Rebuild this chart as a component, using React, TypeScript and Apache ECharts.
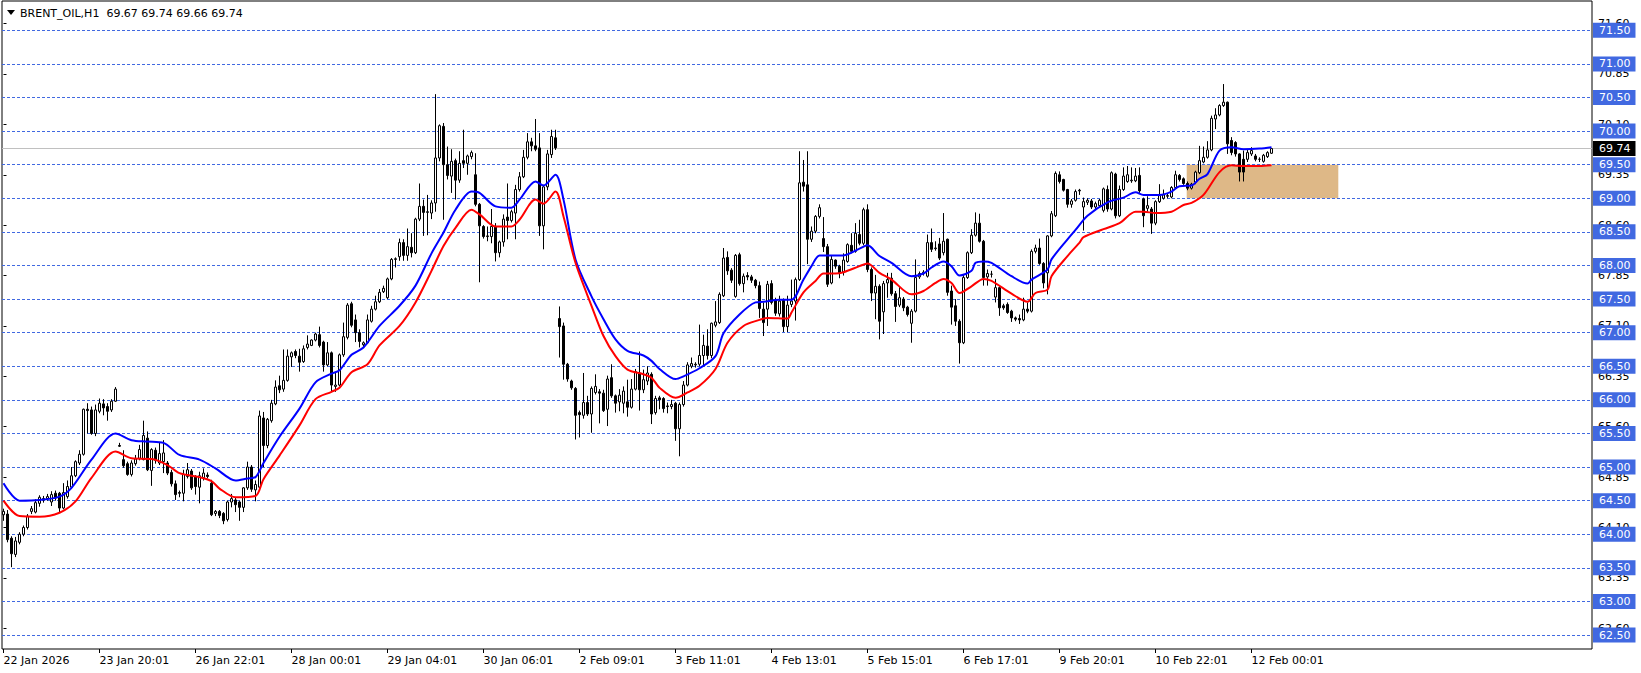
import React, { useEffect, useRef } from "react";
import * as echarts from "echarts";

const FONT = "'DejaVu Sans', 'Liberation Sans', sans-serif";

const header = "BRENT_OIL,H1  69.67 69.74 69.66 69.74";

// [open, close, low, high] per hourly bar
const candles: number[][] = [
  [64.29, 64.34, 64.2, 64.38], [64.3, 63.92, 63.88, 64.36], [63.94, 63.71, 63.51, 63.97], [63.7, 63.9, 63.66, 63.96],
  [63.88, 64.0, 63.85, 64.03], [64.0, 64.1, 63.97, 64.13], [64.1, 64.27, 64.07, 64.3], [64.34, 64.38, 64.3, 64.42],
  [64.33, 64.47, 64.31, 64.52], [64.46, 64.55, 64.41, 64.58], [64.53, 64.51, 64.47, 64.57], [64.53, 64.56, 64.5, 64.6],
  [64.48, 64.59, 64.42, 64.64], [64.61, 64.54, 64.5, 64.65], [64.61, 64.39, 64.32, 64.63], [64.39, 64.62, 64.37, 64.76],
  [64.56, 64.71, 64.53, 64.8], [64.7, 64.87, 64.68, 65.0], [64.87, 65.08, 64.85, 65.1], [65.06, 65.19, 65.03, 65.25],
  [65.19, 65.86, 65.17, 65.87], [65.86, 65.84, 65.5, 65.95], [65.85, 65.5, 65.48, 65.9], [65.5, 65.85, 65.46, 65.93],
  [65.83, 65.95, 65.8, 66.02], [65.94, 65.88, 65.77, 66.01], [65.9, 65.83, 65.69, 65.95], [65.85, 65.98, 65.82, 66.01],
  [65.98, 66.16, 65.97, 66.19], [65.32, 65.31, 65.3, 65.36], [65.11, 65.02, 64.99, 65.25], [65.05, 64.89, 64.87, 65.08],
  [64.89, 65.06, 64.86, 65.1], [65.05, 65.12, 65.02, 65.18], [65.13, 65.26, 65.1, 65.33], [65.11, 65.47, 65.1, 65.69],
  [65.43, 64.96, 64.94, 65.53], [64.95, 65.26, 64.72, 65.28], [65.25, 65.1, 65.05, 65.29], [65.06, 65.2, 65.03, 65.36],
  [65.08, 65.21, 64.91, 65.4], [65.06, 64.91, 64.88, 65.09], [64.92, 64.75, 64.71, 64.96], [64.75, 64.59, 64.51, 64.8],
  [64.62, 64.61, 64.55, 64.65], [64.61, 64.89, 64.49, 64.96], [64.86, 64.96, 64.83, 65.06], [64.94, 64.69, 64.66, 64.97],
  [64.86, 64.71, 64.59, 64.88], [64.7, 64.87, 64.46, 64.93], [64.84, 64.91, 64.8, 64.98], [64.88, 64.86, 64.83, 64.92],
  [64.76, 64.29, 64.27, 64.81], [64.31, 64.34, 64.27, 64.36], [64.34, 64.28, 64.24, 64.36], [64.31, 64.2, 64.15, 64.33],
  [64.22, 64.48, 64.19, 64.5], [64.48, 64.53, 64.4, 64.6], [64.51, 64.44, 64.33, 64.55], [64.48, 64.4, 64.2, 64.5],
  [64.4, 64.69, 64.33, 64.7], [64.69, 65.0, 64.66, 65.08], [65.0, 64.67, 64.63, 65.03], [64.66, 64.74, 64.49, 64.8],
  [64.7, 65.76, 64.68, 65.84], [65.73, 65.32, 65.0, 65.82], [65.32, 65.71, 65.28, 65.73], [65.69, 65.95, 65.66, 66.0],
  [65.94, 66.19, 65.92, 66.29], [66.21, 66.15, 66.1, 66.36], [66.16, 66.29, 66.12, 66.75], [66.29, 66.65, 66.27, 66.75],
  [66.64, 66.7, 66.49, 66.72], [66.72, 66.66, 66.62, 66.75], [66.65, 66.56, 66.42, 66.76], [66.57, 66.76, 66.55, 66.81],
  [66.78, 66.83, 66.75, 66.96], [66.81, 66.89, 66.8, 66.9], [66.89, 66.98, 66.87, 67.0], [66.97, 66.81, 66.78, 67.09],
  [66.86, 66.52, 66.42, 66.88], [66.52, 66.7, 66.5, 66.86], [66.7, 66.22, 66.12, 66.72], [66.2, 66.22, 66.12, 66.4],
  [66.22, 66.67, 66.2, 66.69], [66.67, 66.94, 66.64, 67.15], [66.93, 67.41, 66.9, 67.44], [67.43, 67.11, 67.08, 67.46],
  [67.19, 67.0, 66.86, 67.27], [67.0, 66.87, 66.78, 67.05], [66.82, 66.85, 66.77, 66.87], [66.85, 67.19, 66.83, 67.27],
  [67.17, 67.35, 67.15, 67.4], [67.35, 67.46, 67.33, 67.55], [67.46, 67.6, 67.44, 67.65], [67.61, 67.66, 67.59, 67.7],
  [67.52, 67.8, 67.5, 67.82], [67.8, 68.09, 67.78, 68.11], [68.09, 68.1, 67.97, 68.12], [68.13, 68.34, 68.07, 68.4],
  [68.34, 68.15, 68.07, 68.39], [68.15, 68.28, 68.07, 68.55], [68.27, 68.19, 68.12, 68.48], [68.19, 68.69, 68.17, 68.71],
  [68.69, 68.88, 68.66, 69.22], [68.88, 68.79, 68.44, 68.98], [68.79, 68.8, 68.45, 69.05], [68.78, 68.93, 68.69, 68.97],
  [68.93, 69.6, 68.8, 70.55], [69.6, 70.08, 69.55, 70.1], [70.07, 69.5, 68.68, 70.12], [69.5, 69.34, 69.28, 69.77],
  [69.33, 69.55, 69.08, 69.73], [69.56, 69.27, 68.98, 69.59], [69.27, 69.52, 69.23, 69.7], [69.56, 69.52, 69.45, 70.02],
  [69.52, 69.63, 69.35, 69.65], [69.62, 69.68, 69.58, 69.71], [69.35, 68.91, 68.88, 69.67], [68.91, 68.59, 67.75, 68.93],
  [68.58, 68.43, 68.4, 68.6], [68.43, 68.44, 68.36, 68.58], [68.43, 68.58, 68.33, 68.84], [68.58, 68.19, 68.06, 68.63],
  [68.19, 68.35, 68.12, 68.37], [68.35, 68.69, 68.28, 68.76], [68.72, 68.67, 68.39, 69.22], [68.67, 68.8, 68.64, 68.83],
  [68.78, 69.13, 68.39, 69.2], [69.13, 69.32, 69.1, 69.39], [69.32, 69.61, 69.3, 69.72], [69.61, 69.84, 69.58, 69.97],
  [69.84, 69.78, 69.7, 69.9], [69.78, 69.73, 69.7, 70.18], [69.75, 68.59, 68.44, 69.97], [68.59, 69.17, 68.24, 69.2],
  [69.17, 69.66, 69.12, 69.72], [69.65, 69.92, 69.6, 70.02], [69.9, 69.75, 69.72, 70.02], [67.21, 67.09, 66.63, 67.39],
  [67.1, 66.53, 66.3, 67.15], [66.53, 66.31, 66.27, 66.55], [66.28, 66.18, 66.15, 66.3], [66.17, 65.77, 65.41, 66.19],
  [65.81, 65.78, 65.44, 65.84], [65.77, 65.96, 65.72, 66.4], [65.96, 65.79, 65.76, 66.06], [65.79, 66.17, 65.51, 66.2],
  [66.11, 66.2, 66.08, 66.38], [66.12, 66.1, 65.65, 66.16], [66.1, 65.84, 65.82, 66.15], [65.86, 66.31, 65.61, 66.36],
  [66.33, 66.06, 66.03, 66.53], [66.06, 65.95, 65.81, 66.08], [65.97, 66.07, 65.83, 66.16], [65.95, 66.13, 65.8, 66.2],
  [65.97, 65.89, 65.75, 66.3], [65.89, 66.16, 65.87, 66.31], [66.16, 66.42, 66.14, 66.46], [66.4, 66.15, 65.84, 66.72],
  [66.15, 66.3, 66.1, 66.45], [66.28, 66.4, 66.22, 66.5], [66.38, 65.79, 65.64, 66.41], [65.81, 66.02, 65.78, 66.06],
  [66.03, 66.0, 65.86, 66.06], [66.02, 65.87, 65.81, 66.04], [65.91, 65.9, 65.8, 65.96], [65.9, 65.93, 65.86, 66.0],
  [65.95, 65.57, 65.39, 65.97], [65.57, 65.93, 65.16, 65.96], [65.93, 66.22, 65.9, 66.28], [66.22, 66.52, 66.2, 66.56],
  [66.5, 66.54, 66.47, 66.63], [66.52, 66.53, 66.48, 66.56], [66.53, 66.66, 66.5, 67.12], [66.66, 66.81, 66.5, 66.97],
  [66.8, 66.66, 66.6, 67.05], [66.66, 67.14, 66.62, 67.15], [67.11, 67.16, 67.08, 67.47], [67.15, 67.57, 67.13, 67.6],
  [67.55, 68.11, 67.53, 68.26], [68.12, 67.92, 67.86, 68.21], [67.93, 67.78, 67.74, 67.96], [67.54, 68.15, 67.52, 68.17],
  [68.16, 67.73, 67.7, 68.19], [67.73, 67.84, 67.6, 67.88], [67.85, 67.83, 67.78, 67.9], [67.83, 67.78, 67.74, 67.86],
  [67.78, 67.7, 67.66, 67.8], [67.7, 67.36, 67.22, 67.76], [67.35, 67.15, 66.95, 67.45], [67.35, 67.72, 67.1, 67.77],
  [67.73, 67.45, 67.42, 67.78], [67.48, 67.29, 67.25, 67.52], [67.28, 67.47, 67.24, 67.55], [67.48, 67.09, 67.01, 67.51],
  [67.09, 67.41, 67.01, 67.55], [67.42, 67.47, 67.38, 67.79], [67.47, 67.79, 67.18, 67.82], [67.79, 69.23, 67.77, 69.7],
  [69.24, 69.18, 69.1, 69.57], [69.2, 68.39, 68.02, 69.7], [68.39, 68.51, 68.35, 68.58], [68.51, 68.73, 68.48, 68.75],
  [68.73, 68.86, 68.7, 68.91], [68.4, 68.28, 68.2, 68.72], [68.28, 67.72, 67.68, 68.32], [67.74, 68.09, 67.72, 68.14],
  [68.08, 67.99, 67.95, 68.09], [67.99, 67.89, 67.81, 68.01], [67.9, 68.08, 67.85, 68.18], [68.06, 68.31, 68.04, 68.33],
  [68.3, 68.21, 68.18, 68.48], [68.21, 68.48, 68.19, 68.63], [68.46, 68.33, 68.3, 68.68], [68.33, 68.83, 68.3, 68.86],
  [68.83, 67.94, 67.9, 68.91], [67.94, 67.59, 67.47, 67.97], [67.59, 67.69, 67.2, 67.86], [67.69, 67.17, 66.9, 67.72],
  [67.31, 67.73, 66.98, 67.77], [67.74, 67.79, 67.52, 67.89], [67.81, 67.58, 67.55, 67.89], [67.58, 67.39, 67.16, 67.62],
  [67.41, 67.52, 67.38, 67.68], [67.5, 67.37, 67.32, 67.53], [67.38, 67.27, 67.24, 67.4], [67.14, 67.32, 66.85, 67.35],
  [67.32, 67.82, 67.3, 68.09], [67.83, 67.88, 67.8, 67.91], [67.88, 67.9, 67.85, 67.93], [67.84, 68.34, 67.82, 68.46],
  [68.34, 68.24, 68.2, 68.55], [68.25, 68.26, 68.22, 68.36], [68.32, 68.11, 68.08, 68.41], [68.19, 68.36, 68.15, 68.78],
  [68.39, 67.6, 67.55, 68.4], [67.62, 67.38, 67.12, 67.7], [67.4, 67.17, 67.1, 67.5], [67.17, 66.85, 66.54, 67.2],
  [66.85, 67.82, 66.83, 67.87], [67.82, 68.19, 67.8, 68.21], [68.19, 68.45, 68.17, 68.54], [68.45, 68.63, 68.43, 68.79],
  [68.63, 68.36, 68.34, 68.77], [68.36, 67.82, 67.7, 68.38], [67.83, 67.88, 67.7, 67.94], [67.87, 67.87, 67.82, 67.92],
  [67.53, 67.67, 67.45, 67.8], [67.67, 67.37, 67.25, 67.69], [67.4, 67.37, 67.34, 67.43], [67.42, 67.3, 67.28, 67.45],
  [67.32, 67.22, 67.16, 67.34], [67.22, 67.2, 67.17, 67.24], [67.21, 67.19, 67.13, 67.27], [67.19, 67.35, 67.17, 67.52],
  [67.35, 67.32, 67.29, 67.45], [67.32, 68.21, 67.3, 68.24], [68.21, 68.26, 68.18, 68.31], [68.26, 68.03, 68.01, 68.4],
  [68.03, 67.74, 67.66, 68.05], [67.89, 68.44, 67.57, 68.45], [68.44, 68.77, 68.42, 68.81], [68.74, 69.37, 68.72, 69.4],
  [69.35, 69.25, 69.22, 69.4], [69.28, 69.12, 69.1, 69.29], [69.13, 68.91, 68.86, 69.14], [68.91, 68.96, 68.86, 68.99],
  [68.97, 69.1, 68.95, 69.13], [69.11, 69.12, 69.05, 69.14], [68.87, 68.95, 68.52, 69.01], [68.94, 68.97, 68.9, 69.0],
  [68.96, 68.87, 68.84, 68.99], [68.87, 68.92, 68.83, 68.95], [68.89, 68.97, 68.86, 68.99], [68.82, 69.14, 68.79, 69.16],
  [69.13, 68.84, 68.8, 69.19], [68.84, 69.38, 68.82, 69.4], [69.36, 68.74, 68.7, 69.38], [68.74, 69.13, 68.72, 69.19],
  [69.13, 69.33, 69.11, 69.46], [69.25, 69.35, 69.23, 69.48], [69.26, 69.27, 69.23, 69.46], [69.26, 69.33, 69.24, 69.45],
  [69.34, 69.11, 69.08, 69.46], [68.99, 68.74, 68.57, 69.01], [68.85, 68.89, 68.8, 69.03], [68.84, 68.63, 68.47, 68.87],
  [68.63, 68.95, 68.6, 68.97], [68.95, 69.04, 68.93, 69.21], [69.0, 69.05, 68.98, 69.13], [69.03, 69.04, 69.0, 69.07],
  [69.02, 69.16, 69.0, 69.18], [69.16, 69.35, 69.14, 69.41], [69.34, 69.28, 69.25, 69.36], [69.29, 69.22, 69.2, 69.31],
  [69.22, 69.15, 69.12, 69.25], [69.15, 69.21, 69.13, 69.23], [69.24, 69.39, 69.21, 69.41], [69.38, 69.56, 69.36, 69.78],
  [69.54, 69.61, 69.52, 69.77], [69.61, 69.72, 69.59, 69.85], [69.72, 70.19, 69.7, 70.23], [70.18, 70.24, 70.03, 70.34],
  [70.24, 70.38, 70.22, 70.4], [70.38, 70.43, 70.36, 70.7], [70.43, 69.81, 69.66, 70.44], [69.86, 69.68, 69.64, 69.91],
  [69.83, 69.66, 69.62, 69.85], [69.66, 69.39, 69.25, 69.67], [69.58, 69.39, 69.25, 69.71], [69.58, 69.68, 69.54, 69.73],
  [69.66, 69.71, 69.63, 69.76], [69.63, 69.58, 69.55, 69.66], [69.58, 69.58, 69.54, 69.61], [69.55, 69.64, 69.53, 69.66],
  [69.62, 69.68, 69.6, 69.7], [69.67, 69.74, 69.66, 69.74],
];

// moving averages: [bar index, price]
const blueMA: number[][] = [
  [0, 64.76], [4, 64.5], [9, 64.51], [14, 64.56], [17, 64.69], [22, 65.11], [28, 65.5], [32, 65.4], [36, 65.38],
  [40, 65.36], [44, 65.18], [49, 65.11], [53, 64.98], [58, 64.8], [61, 64.83], [63, 64.85], [65, 65.06], [69, 65.45],
  [74, 65.87], [78, 66.26], [82, 66.39], [84, 66.44], [87, 66.67], [90, 66.78], [94, 67.1], [99, 67.4], [103, 67.7],
  [107, 68.18], [110, 68.49], [113, 68.83], [117, 69.1], [119, 69.08], [123, 68.88], [127, 68.86], [129, 68.98],
  [133, 69.25], [135, 69.19], [138, 69.35], [140, 68.98], [143, 68.09], [147, 67.54], [150, 67.2], [153, 66.9],
  [156, 66.73], [160, 66.66], [162, 66.58], [164, 66.46], [168, 66.31], [170, 66.35], [174, 66.47], [178, 66.65],
  [180, 66.99], [184, 67.27], [188, 67.45], [190, 67.46], [194, 67.49], [197, 67.49], [200, 67.79], [202, 67.99],
  [204, 68.15], [207, 68.15], [210, 68.15], [214, 68.25], [216, 68.3], [219, 68.14], [222, 68.04], [227, 67.84],
  [230, 67.88], [232, 67.97], [235, 68.06], [237, 67.99], [239, 67.85], [242, 67.92], [243, 68.04], [245, 68.06],
  [247, 68.04], [252, 67.84], [256, 67.73], [257, 67.79], [261, 67.94], [262, 68.09], [266, 68.39], [268, 68.53],
  [271, 68.74], [276, 68.94], [280, 69.01], [283, 69.09], [285, 69.05], [289, 69.05], [292, 69.1], [294, 69.18],
  [297, 69.19], [299, 69.29], [301, 69.36], [304, 69.71], [307, 69.76], [310, 69.73], [314, 69.74], [317, 69.76],
];

const redMA: number[][] = [
  [0, 64.5], [4, 64.27], [9, 64.26], [14, 64.32], [18, 64.49], [22, 64.84], [28, 65.23], [32, 65.13], [37, 65.12],
  [41, 65.03], [44, 64.91], [49, 64.85], [52, 64.79], [54, 64.68], [58, 64.55], [63, 64.57], [65, 64.82], [69, 65.17],
  [74, 65.62], [78, 66.01], [82, 66.12], [84, 66.18], [87, 66.41], [91, 66.53], [94, 66.81], [99, 67.1], [103, 67.45],
  [107, 67.92], [110, 68.29], [113, 68.56], [117, 68.83], [119, 68.76], [123, 68.58], [127, 68.58], [129, 68.68],
  [133, 68.98], [135, 68.92], [138, 69.1], [140, 68.73], [143, 68.04], [147, 67.4], [150, 66.95], [153, 66.65],
  [156, 66.45], [160, 66.38], [162, 66.33], [164, 66.18], [168, 66.03], [171, 66.11], [174, 66.21], [178, 66.46],
  [181, 66.85], [185, 67.1], [189, 67.19], [191, 67.22], [196, 67.21], [197, 67.3], [200, 67.6], [203, 67.77],
  [205, 67.88], [208, 67.88], [210, 67.9], [214, 67.99], [216, 68.03], [219, 67.89], [222, 67.79], [227, 67.57],
  [230, 67.62], [233, 67.74], [235, 67.8], [237, 67.74], [239, 67.59], [242, 67.69], [245, 67.8], [247, 67.77],
  [252, 67.58], [256, 67.46], [258, 67.59], [261, 67.64], [262, 67.84], [266, 68.14], [269, 68.34], [270, 68.42],
  [275, 68.54], [279, 68.63], [283, 68.8], [285, 68.8], [288, 68.78], [292, 68.8], [295, 68.9], [297, 68.93],
  [300, 69.05], [304, 69.39], [307, 69.49], [310, 69.48], [314, 69.48], [317, 69.49],
];

const levelLines = [71.5, 71.0, 70.5, 70.0, 69.5, 69.0, 68.5, 68.0, 67.5, 67.0, 66.5, 66.0, 65.5, 65.0, 64.5, 64.0, 63.5, 63.0, 62.5];
const priceTicks = [62.6, 63.35, 64.1, 64.85, 65.6, 66.35, 67.1, 67.85, 68.6, 69.35, 70.1, 70.85, 71.6];
const timeTicks = [0, 24, 48, 72, 96, 120, 144, 168, 192, 216, 240, 264, 288, 312];
const timeLabels = [
  "22 Jan 2026", "23 Jan 20:01", "26 Jan 22:01", "28 Jan 00:01", "29 Jan 04:01", "30 Jan 06:01", "2 Feb 09:01",
  "3 Feb 11:01", "4 Feb 13:01", "5 Feb 15:01", "6 Feb 17:01", "9 Feb 20:01", "10 Feb 22:01", "12 Feb 00:01",
];
const bidPrice = 69.74;
// zone rectangle: [start bar, end bar, low price, high price]
const zone = [295.8, 333.7, 69.0, 69.5];

export default function App() {
  const ref = useRef<HTMLDivElement>(null);
  useEffect(() => {
    if (!ref.current) return;
    const chart = echarts.init(ref.current, null, { renderer: "svg" });
    const lineLabel = (bg: string) => ({
      show: true,
      position: "end",
      distance: 1,
      formatter: (p: any) => Number(p.value).toFixed(2),
      color: "#fff",
      backgroundColor: bg,
      padding: [2, 5, 2, 6],
      fontSize: 11,
      fontFamily: FONT,
    });
    const option: any = {
      animation: false,
      backgroundColor: "#fff",
      grid: { left: 2, right: 49, top: 1, bottom: 24, show: true, borderColor: "#000", borderWidth: 1 },
      xAxis: {
        type: "value",
        min: -0.375,
        max: 397.125,
        axisLine: { show: false },
        splitLine: { show: false },
        axisTick: { show: true, customValues: timeTicks, length: 4, lineStyle: { color: "#000" } },
        axisLabel: {
          customValues: timeTicks,
          formatter: (v: number) => {
            const k = timeTicks.indexOf(Math.round(v));
            return k >= 0 ? timeLabels[k] : "";
          },
          align: "left",
          margin: 6,
          color: "#000",
          fontSize: 11,
          fontFamily: FONT,
        },
      },
      yAxis: {
        type: "value",
        position: "right",
        min: 62.292,
        max: 71.936,
        axisLine: { show: false },
        splitLine: { show: false },
        axisTick: { show: true, customValues: priceTicks, length: 3, lineStyle: { color: "#000" } },
        axisLabel: {
          customValues: priceTicks,
          formatter: (v: number) => v.toFixed(2),
          margin: 6,
          color: "#000",
          fontSize: 11,
          fontFamily: FONT,
        },
      },
      graphic: [
        { type: "polygon", shape: { points: [[7, 10], [15, 10], [11, 15]] }, style: { fill: "#000" } },
        { type: "text", x: 20, y: 13, style: { text: header, fill: "#000", font: `11px ${FONT}`, verticalAlign: "middle" } },
      ],
      series: [
        {
          type: "candlestick",
          data: candles.map((c, i) => [i, c[0], c[1], c[2], c[3]]),
          encode: { x: 0, y: [1, 2, 3, 4] },
          barWidth: 2,
          z: 2,
          itemStyle: { color: "#fff", color0: "#000", borderColor: "#000", borderColor0: "#000", borderWidth: 1 },
          markArea: {
            silent: true,
            z: 1,
            itemStyle: { color: "#deb887", opacity: 1 },
            data: [[{ xAxis: zone[0], yAxis: zone[3] }, { xAxis: zone[1], yAxis: zone[2] }]],
          },
          markLine: {
            silent: true,
            z: 1,
            symbol: ["none", "none"],
            animation: false,
            data: [
              ...levelLines.map((v) => ({
                yAxis: v,
                lineStyle: { color: "#4169e1", width: 1, type: [3, 2] },
                label: lineLabel("#4169e1"),
              })),
              {
                yAxis: bidPrice,
                lineStyle: { color: "#c0c0c0", width: 1, type: "solid" },
                label: lineLabel("#000"),
              },
            ],
          },
        },
        {
          type: "line",
          data: blueMA,
          showSymbol: false,
          smooth: 0.3,
          z: 3,
          silent: true,
          lineStyle: { color: "#0000ff", width: 2 },
        },
        {
          type: "line",
          data: redMA,
          showSymbol: false,
          smooth: 0.3,
          z: 3,
          silent: true,
          lineStyle: { color: "#ff0000", width: 2 },
        },
      ],
    };
    chart.setOption(option);
    return () => chart.dispose();
  }, []);
  return (
    <div
      ref={ref}
      style={{ position: "fixed", left: 0, top: 0, width: 1641, height: 673, background: "#fff" }}
    />
  );
}
